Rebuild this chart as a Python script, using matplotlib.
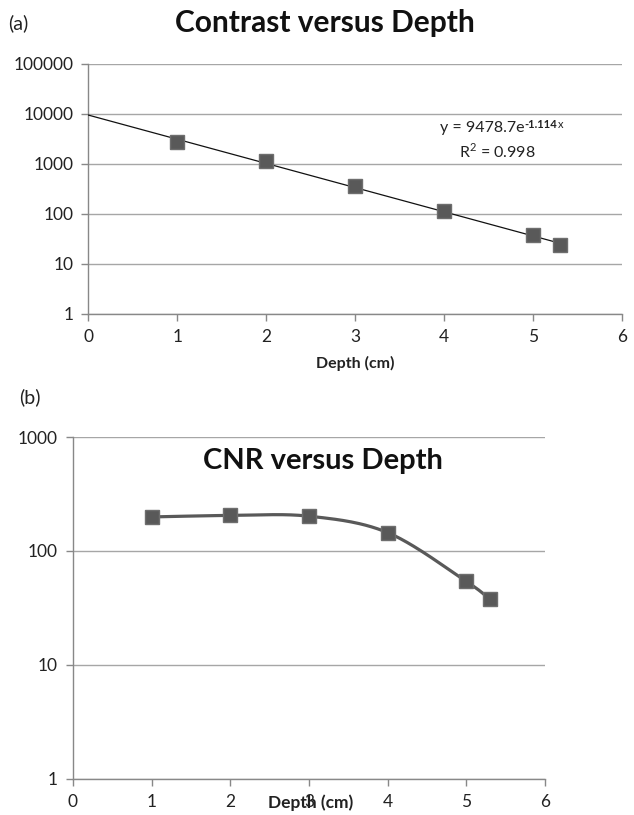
import numpy as np
import matplotlib
matplotlib.use("Agg")
import matplotlib.pyplot as plt

plt.rcParams['font.family'] = ['Lato', 'DejaVu Sans']

# ---- data ----
depth = [1, 2, 3, 4, 5, 5.3]
contrast = [2700, 1120, 355, 112, 37.6, 24]
cnr = [199, 205, 202, 145, 54, 37.8]
fit_a = 9478.7
fit_b = -1.114
r2 = 0.998
x_ticks = [0, 1, 2, 3, 4, 5, 6]
y_ticks_a = [1, 10, 100, 1000, 10000, 100000]
y_ticks_b = [1, 10, 100, 1000]

MARK = '#595959'
GRID = '#a6a6a6'
TXT = '#222222'

fig = plt.figure(figsize=(6.34, 8.15), dpi=100)


def style(ax, yticks):
    ax.set_yscale('log')
    ax.set_xlim(0, 6)
    ax.set_ylim(yticks[0], yticks[-1])
    ax.set_xticks(x_ticks)
    ax.set_xticklabels([str(t) for t in x_ticks])
    ax.set_yticks(yticks)
    ax.set_yticklabels([str(t) for t in yticks])
    ax.yaxis.set_minor_locator(matplotlib.ticker.NullLocator())
    for s in ['top', 'right']:
        ax.spines[s].set_visible(False)
    for s in ['left', 'bottom']:
        ax.spines[s].set_color('#888888')
        ax.spines[s].set_linewidth(1.0)
    ax.grid(axis='y', color=GRID, linewidth=1.0)
    ax.set_axisbelow(True)
    ax.tick_params(axis='both', direction='out', length=5, width=1.0,
                   color='#888888', labelsize=12.5, labelcolor=TXT, pad=6)


# ---- (a) ----
ax1 = fig.add_axes([0.1395, 0.6150, 0.8415, 0.3065])
style(ax1, y_ticks_a)
xf = np.linspace(0, max(depth), 200)
ax1.plot(xf, fit_a * np.exp(fit_b * xf), color='#111111', linewidth=0.9, zorder=3)
ax1.plot(depth, contrast, linestyle='none', marker='s', markersize=10.5,
         markerfacecolor=MARK, markeredgecolor='#6e6e6e', markeredgewidth=1.0, zorder=4)

eq_base = f'y = {fit_a}e'
t_base = ax1.text(3.95, 5250, eq_base, ha='left', va='center', fontsize=11.5, color=TXT)
fig.canvas.draw()
bb = t_base.get_window_extent(fig.canvas.get_renderer())
t_exp = ax1.annotate(f'{fit_b}', xy=(bb.x1, bb.y1), xycoords='figure pixels',
                     xytext=(0.5, -2.5), textcoords='offset points', ha='left', va='center',
                     fontsize=8, fontweight='bold', color=TXT)
fig.canvas.draw()
bb2 = t_exp.get_window_extent(fig.canvas.get_renderer())
ax1.annotate('x', xy=(bb2.x1, bb.y1), xycoords='figure pixels',
             xytext=(0.5, -2.5), textcoords='offset points', ha='left', va='center',
             fontsize=8, color=TXT)
ax1.text(4.6, 1820, r'R$^{\mathregular{2}}$ = ' + f'{r2}', ha='center', va='center',
         fontsize=11.5, color=TXT)
ax1.set_xlabel('Depth (cm)', fontsize=11.5, fontweight='bold', color=TXT, labelpad=8)
fig.text(0.512, 0.972, 'Contrast versus Depth', ha='center', va='center',
         fontsize=21.5, fontweight='bold', color='#111111')
fig.text(0.013, 0.972, '(a)', ha='left', va='center', fontsize=14, color=TXT)

# ---- (b) ----
ax2 = fig.add_axes([0.1151, 0.0442, 0.7445, 0.4196])
style(ax2, y_ticks_b)


def catmull(xs, ys, n=40):
    px = np.array(xs, float)
    py = np.log10(np.array(ys, float))
    P = np.column_stack([px, py])
    P = np.vstack([P[0] - (P[1] - P[0]), P, P[-1] + (P[-1] - P[-2])])
    out = []
    for i in range(1, len(P) - 2):
        p0, p1, p2, p3 = P[i - 1], P[i], P[i + 1], P[i + 2]
        t = np.linspace(0, 1, n)[:, None]
        seg = 0.5 * ((2 * p1) + (-p0 + p2) * t + (2 * p0 - 5 * p1 + 4 * p2 - p3) * t ** 2
                     + (-p0 + 3 * p1 - 3 * p2 + p3) * t ** 3)
        out.append(seg)
    out = np.vstack(out)
    return out[:, 0], 10 ** out[:, 1]


sx, sy = catmull(depth, cnr)
ax2.plot(sx, sy, color=MARK, linewidth=2.3, zorder=3)
ax2.plot(depth, cnr, linestyle='none', marker='s', markersize=10.5,
         markerfacecolor=MARK, markeredgecolor='#6e6e6e', markeredgewidth=1.0, zorder=4)
ax2.text(0.53, 0.93, 'CNR versus Depth', transform=ax2.transAxes, ha='center', va='center',
         fontsize=21, fontweight='bold', color='#111111')
fig.text(0.49, 0.015, 'Depth (cm)', ha='center', va='center', fontsize=12.5,
         fontweight='bold', color=TXT)
fig.text(0.030, 0.513, '(b)', ha='left', va='center', fontsize=14, color=TXT)

fig.savefig('out.png', dpi=100)
